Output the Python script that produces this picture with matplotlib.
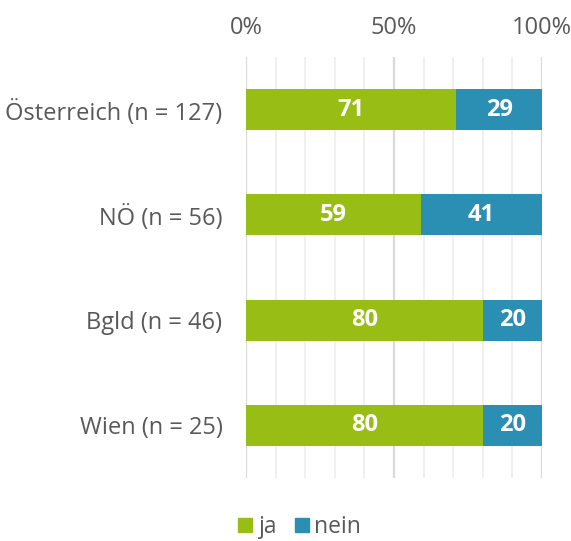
import numpy as np
import matplotlib
matplotlib.use('Agg')
from matplotlib import pyplot as plt
from matplotlib.patches import Patch

categories = ['Österreich (n = 127)', 'NÖ (n = 56)', 'Bgld (n = 46)', 'Wien (n = 25)']
ja = [71, 59, 80, 80]
nein = [29, 41, 20, 20]
series_names = ['ja', 'nein']
colors = ['#98bd15', '#2b8fb3']
text_gray = '#595959'

plt.rcParams['font.family'] = ['Open Sans', 'DejaVu Sans']

fig = plt.figure(figsize=(5.71, 5.41), dpi=100)
ax = fig.add_axes([0.4308, 0.1165, 0.5184, 0.7781])

y = np.arange(len(categories))
h = 0.39
ax.barh(y, ja, height=h, color=colors[0], zorder=3)
ax.barh(y, nein, left=ja, height=h, color=colors[1], zorder=3)

for i in range(len(categories)):
    ax.text(ja[i] / 2, y[i], str(ja[i]), ha='center', va='center',
            color='white', fontsize=17, fontweight='bold', zorder=4)
    ax.text(ja[i] + nein[i] / 2, y[i], str(nein[i]), ha='center', va='center',
            color='white', fontsize=17, fontweight='bold', zorder=4)

ax.set_xlim(0, 100)
ax.set_ylim(len(categories) - 0.5, -0.5)

# grid lines: minor every 10, major every 50
for v in range(0, 101, 10):
    if v % 50 == 0:
        ax.axvline(v, color='#dadada', lw=1.6, zorder=1)
    else:
        ax.axvline(v, color='#ededed', lw=1.2, zorder=1)

ax.set_xticks([0, 50, 100])
ax.set_xticklabels(['0%', '50%', '100%'])
ax.xaxis.tick_top()
ax.set_yticks(y)
ax.set_yticklabels(categories)
ax.tick_params(axis='both', length=0, colors=text_gray, labelsize=17)
ax.tick_params(axis='x', pad=12)
ax.tick_params(axis='y', pad=17)
for s in ax.spines.values():
    s.set_visible(False)

handles = [Patch(color=c, label=n) for c, n in zip(colors, series_names)]
fig.legend(handles=handles, loc='center', bbox_to_anchor=(0.525, 0.026), ncol=2,
           frameon=False, fontsize=16.5, handlelength=0.6, handleheight=0.6,
           handletextpad=0.25, columnspacing=0.8, labelcolor=text_gray)

fig.savefig('out.png', dpi=100)
